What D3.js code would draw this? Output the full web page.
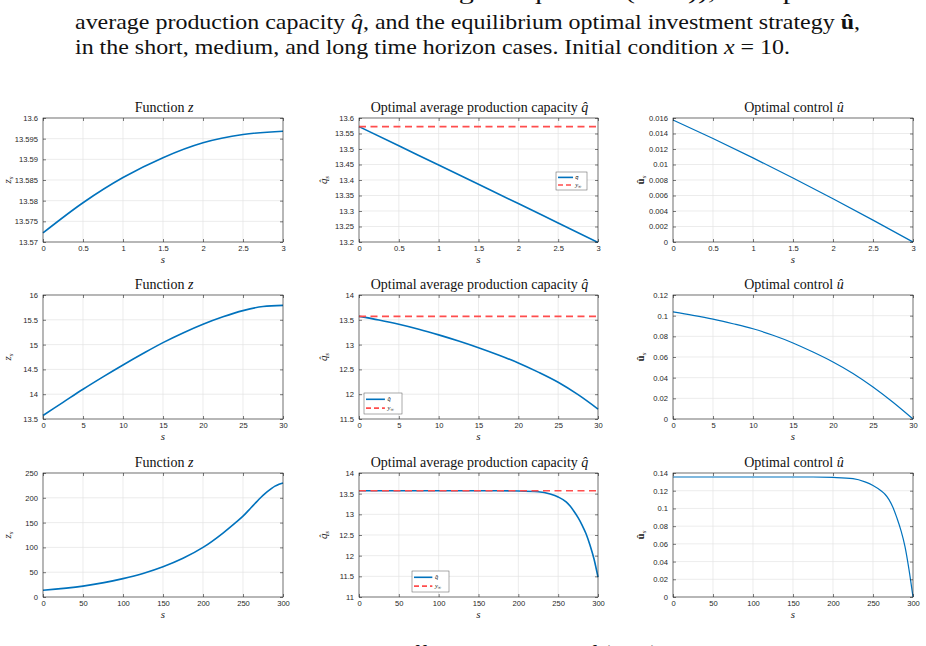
<!DOCTYPE html>
<html>
<head>
<meta charset="utf-8">
<script src="https://cdn.jsdelivr.net/npm/d3@7/dist/d3.min.js"></script>
<style>
  html, body { margin: 0; padding: 0; background: #fff; }
  svg { display: block; }
</style>
</head>
<body>
<script>
// ---------------- DATA ----------------
// Short horizon (T = 3)
const sShort = [0, 0.5, 1, 1.5, 2, 2.5, 3];
const zShort = [13.5722, 13.5795, 13.5856, 13.5904, 13.5940, 13.5960, 13.5968];
const qShort = [13.5722, 13.5102, 13.4483, 13.3862, 13.3240, 13.2612, 13.1985];
const uShort = [0.01575, 0.01335, 0.01085, 0.00825, 0.00558, 0.00282, 0];
const yInfShort = 13.5722;

// Medium horizon (T = 30)
const sMed = [0, 2.5, 5, 7.5, 10, 12.5, 15, 17.5, 20, 22.5, 25, 27.5, 30];
const zMed = [13.57, 13.835, 14.10, 14.35, 14.59, 14.82, 15.04, 15.235, 15.41, 15.56, 15.685, 15.768, 15.79];
const qMed = [13.57, 13.495, 13.41, 13.31, 13.196, 13.072, 12.937, 12.790, 12.63, 12.445, 12.24, 11.99, 11.70];
const uMed = [0.1036, 0.1003, 0.0966, 0.0922, 0.0873, 0.0810, 0.0736, 0.0648, 0.0552, 0.0441, 0.0310, 0.0162, 0];
const yInfMed = 13.57;

// Long horizon (T = 300)
const sLong = [0, 50, 100, 125, 150, 175, 200, 225, 240, 250, 260, 265, 270, 275, 280, 285, 290, 295, 300];
const zLong = [13.6, 22, 37, 47.5, 61, 78, 100, 129, 149, 163, 180, 188.5, 197, 205, 212, 218, 223.5, 227.5, 230];
const qLong = [13.57, 13.57, 13.57, 13.57, 13.57, 13.57, 13.565, 13.545, 13.49, 13.42, 13.30, 13.20, 13.07, 12.92, 12.74, 12.53, 12.25, 11.92, 11.48];
const uLong = [0.1355, 0.1355, 0.1355, 0.1355, 0.1355, 0.1355, 0.1350, 0.1336, 0.1300, 0.1260, 0.1200, 0.1160, 0.1100, 0.1010, 0.0890, 0.0750, 0.0570, 0.0310, 0];
const yInfLong = 13.57;

// Tick values
const xTicksShort = [0, 0.5, 1, 1.5, 2, 2.5, 3];
const xTicksMed = [0, 5, 10, 15, 20, 25, 30];
const xTicksLong = [0, 50, 100, 150, 200, 250, 300];
const zTicksShort = [13.57, 13.575, 13.58, 13.585, 13.59, 13.595, 13.6];
const qTicksShort = [13.2, 13.25, 13.3, 13.35, 13.4, 13.45, 13.5, 13.55, 13.6];
const uTicksShort = [0, 0.002, 0.004, 0.006, 0.008, 0.01, 0.012, 0.014, 0.016];
const zTicksMed = [13.5, 14, 14.5, 15, 15.5, 16];
const qTicksMed = [11.5, 12, 12.5, 13, 13.5, 14];
const uTicksMed = [0, 0.02, 0.04, 0.06, 0.08, 0.1, 0.12];
const zTicksLong = [0, 50, 100, 150, 200, 250];
const qTicksLong = [11, 11.5, 12, 12.5, 13, 13.5, 14];
const uTicksLong = [0, 0.02, 0.04, 0.06, 0.08, 0.1, 0.12, 0.14];

// Caption text
const captionLines = [
  "Numerical solution z of the integral equation (3.18)), the optimal",
  "average production capacity ",
  "in the short, medium, and long time horizon cases. Initial condition ",
  "The numerical solutions show the different behaviour of (3.18) in the three horizons."
];

// ---------------- LAYOUT ----------------
const W = 926, H = 646;
const colX = [[43, 283], [359, 598], [673, 913]];
const rowY = [[118, 242], [295, 419], [473, 597]];
const BLUE = "#0072BD";
const RED = "#FF4D4D";
const AX = "#262626";

const svg = d3.select("body").append("svg")
  .attr("width", W).attr("height", H)
  .attr("viewBox", `0 0 ${W} ${H}`);

svg.append("rect").attr("width", W).attr("height", H).attr("fill", "#fff");

// ---- caption ----
const capFont = "'Liberation Serif', 'DejaVu Serif', serif";
const cap = svg.append("g").attr("font-family", capFont).attr("font-size", 21).attr("fill", "#111");
cap.append("text").attr("x", 75).attr("y", -1).text(captionLines[0])
  .attr("textLength", 785).attr("lengthAdjust", "spacingAndGlyphs");
const l1 = cap.append("text").attr("x", 75).attr("y", 29);
l1.append("tspan").text(captionLines[1]);
l1.append("tspan").attr("font-style", "italic").text("q\u0302");
l1.append("tspan").text(", and the equilibrium optimal investment strategy ");
l1.append("tspan").attr("font-weight", "bold").text("\u00fb");
l1.append("tspan").text(",");
const l2 = cap.append("text").attr("x", 75).attr("y", 54);
l2.append("tspan").text(captionLines[2]);
l2.append("tspan").attr("font-style", "italic").text("x");
l2.append("tspan").text(" = 10.");
l1.attr("textLength", 785).attr("lengthAdjust", "spacingAndGlyphs");
l2.attr("textLength", 715).attr("lengthAdjust", "spacingAndGlyphs");
cap.append("text").attr("x", 75).attr("y", 660).text(captionLines[3])
  .attr("textLength", 785).attr("lengthAdjust", "spacingAndGlyphs");

// ---- panels ----
const fmt = d => String(+d.toFixed(6));
const serif = "'Liberation Serif', 'DejaVu Serif', serif";
const sans = "'Liberation Sans', Arial, Helvetica, sans-serif";

function drawPanel(opt) {
  const [x0, x1] = colX[opt.col];
  const [y0, y1] = rowY[opt.row];
  const xs = d3.scaleLinear().domain(opt.xDomain).range([x0, x1]);
  const ys = d3.scaleLinear().domain(opt.yDomain).range([y1, y0]);
  const g = svg.append("g");

  // grid
  const grid = g.append("g").attr("stroke", "#e4e4e4").attr("stroke-width", 0.7);
  opt.xTicks.forEach(t => grid.append("line").attr("x1", xs(t)).attr("x2", xs(t)).attr("y1", y0).attr("y2", y1));
  opt.yTicks.forEach(t => grid.append("line").attr("x1", x0).attr("x2", x1).attr("y1", ys(t)).attr("y2", ys(t)));

  // lines
  const clipId = `clip-${opt.row}-${opt.col}`;
  g.append("clipPath").attr("id", clipId).append("rect")
    .attr("x", x0 - 1).attr("y", y0 - 1).attr("width", x1 - x0 + 2).attr("height", y1 - y0 + 2);
  const data = opt.s.map((s, i) => [s, opt.v[i]]);
  const line = d3.line().x(d => xs(d[0])).y(d => ys(d[1])).curve(d3.curveMonotoneX);
  g.append("path").attr("d", line(data)).attr("fill", "none")
    .attr("stroke", BLUE).attr("stroke-width", opt.lw).attr("clip-path", `url(#${clipId})`);
  if (opt.yInf !== undefined) {
    g.append("path").attr("d", d3.line()([[xs(opt.xDomain[0]), ys(opt.yInf)], [xs(opt.xDomain[1]), ys(opt.yInf)]]))
      .attr("stroke", RED).attr("stroke-width", 1.6).attr("stroke-dasharray", "7,4.5").attr("fill", "none");
  }

  // axes
  const axB = d3.axisBottom(xs).tickValues(opt.xTicks).tickSize(-3).tickPadding(4).tickFormat(fmt);
  const axT = d3.axisTop(xs).tickValues(opt.xTicks).tickSize(-3).tickFormat("");
  const axL = d3.axisLeft(ys).tickValues(opt.yTicks).tickSize(-3).tickPadding(5).tickFormat(fmt);
  const axR = d3.axisRight(ys).tickValues(opt.yTicks).tickSize(-3).tickFormat("");
  const styleAx = sel => {
    sel.select(".domain").remove();
    sel.selectAll("line").attr("stroke", AX).attr("stroke-width", 0.6);
    sel.selectAll("text").attr("fill", AX).attr("font-family", sans).attr("font-size", 7.6);
  };
  g.append("g").attr("transform", `translate(0,${y1})`).call(axB).call(styleAx);
  g.append("g").attr("transform", `translate(0,${y0})`).call(axT).call(styleAx);
  g.append("g").attr("transform", `translate(${x0},0)`).call(axL).call(styleAx);
  g.append("g").attr("transform", `translate(${x1},0)`).call(axR).call(styleAx);
  g.append("rect").attr("x", x0).attr("y", y0).attr("width", x1 - x0).attr("height", y1 - y0)
    .attr("fill", "none").attr("stroke", AX).attr("stroke-width", 0.6);

  // title
  const tt = g.append("text").attr("x", (x0 + x1) / 2 + 1).attr("y", y0 - 6)
    .attr("text-anchor", "middle").attr("font-family", serif).attr("font-size", 14).attr("fill", "#111");
  tt.append("tspan").text(opt.title);
  tt.append("tspan").attr("font-style", "italic").text(opt.titleSym);

  // x label
  g.append("text").attr("x", (x0 + x1) / 2).attr("y", y1 + 21).attr("text-anchor", "middle")
    .attr("font-family", serif).attr("font-style", "italic").attr("font-size", 11).attr("fill", "#222").text("s");

  // y label
  const yl = g.append("text").attr("transform", `translate(${x0 - opt.ylOff},${(y0 + y1) / 2}) rotate(-90)`)
    .attr("text-anchor", "middle").attr("font-family", serif).attr("font-size", 11).attr("fill", "#222");
  yl.append("tspan").attr("font-style", opt.ylBold ? "normal" : "italic").attr("font-weight", opt.ylBold ? "bold" : "normal").text(opt.ylSym);
  yl.append("tspan").attr("font-style", "italic").attr("font-size", 7).attr("dy", 2).text("s");

  // legend
  if (opt.legend) {
    const [lx, ly, lw, lh] = opt.legend;
    const lg = g.append("g");
    lg.append("rect").attr("x", lx).attr("y", ly).attr("width", lw).attr("height", lh)
      .attr("fill", "#fff").attr("stroke", "#555").attr("stroke-width", 0.5);
    const r1 = ly + lh * 0.3, r2 = ly + lh * 0.72;
    lg.append("line").attr("x1", lx + 2).attr("x2", lx + lw * 0.55).attr("y1", r1).attr("y2", r1)
      .attr("stroke", BLUE).attr("stroke-width", 1.6);
    lg.append("line").attr("x1", lx + 2).attr("x2", lx + lw * 0.55).attr("y1", r2).attr("y2", r2)
      .attr("stroke", RED).attr("stroke-width", 1.6).attr("stroke-dasharray", "5,3");
    lg.append("text").attr("x", lx + lw * 0.62).attr("y", r1 + 2).attr("font-family", serif)
      .attr("font-style", "italic").attr("font-size", 6.5).attr("fill", "#222").text("q\u0302");
    const t2 = lg.append("text").attr("x", lx + lw * 0.62).attr("y", r2 + 2).attr("font-family", serif)
      .attr("font-style", "italic").attr("font-size", 6.5).attr("fill", "#222");
    t2.append("tspan").text("y");
    t2.append("tspan").attr("font-size", 4.5).attr("dy", 1).text("\u221e");
  }
}

const rows = [
  { s: sShort, z: zShort, q: qShort, u: uShort, yInf: yInfShort, xd: [0, 3], xt: xTicksShort,
    zd: [13.57, 13.6], zt: zTicksShort, qd: [13.2, 13.6], qt: qTicksShort, ud: [0, 0.016], ut: uTicksShort,
    legend: [556, 172, 31, 18] },
  { s: sMed, z: zMed, q: qMed, u: uMed, yInf: yInfMed, xd: [0, 30], xt: xTicksMed,
    zd: [13.5, 16], zt: zTicksMed, qd: [11.5, 14], qt: qTicksMed, ud: [0, 0.12], ut: uTicksMed,
    legend: [364, 393, 38, 21] },
  { s: sLong, z: zLong, q: qLong, u: uLong, yInf: yInfLong, xd: [0, 300], xt: xTicksLong,
    zd: [0, 250], zt: zTicksLong, qd: [11, 14], qt: qTicksLong, ud: [0, 0.14], ut: uTicksLong,
    legend: [412, 571, 37, 21] }
];

rows.forEach((r, i) => {
  drawPanel({ row: i, col: 0, s: r.s, v: r.z, xDomain: r.xd, xTicks: r.xt, yDomain: r.zd, yTicks: r.zt,
    title: "Function ", titleSym: "z", ylSym: "z", ylOff: 32, lw: 1.6 });
  drawPanel({ row: i, col: 1, s: r.s, v: r.q, yInf: r.yInf, xDomain: r.xd, xTicks: r.xt, yDomain: r.qd, yTicks: r.qt,
    title: "Optimal average production capacity ", titleSym: "q\u0302", ylSym: "q\u0302", ylOff: 32, lw: 1.6,
    legend: r.legend });
  drawPanel({ row: i, col: 2, s: r.s, v: r.u, xDomain: r.xd, xTicks: r.xt, yDomain: r.ud, yTicks: r.ut,
    title: "Optimal control ", titleSym: "u\u0302", ylSym: "\u00fb", ylBold: true, ylOff: 29, lw: 1.2 });
});
</script>
</body>
</html>
